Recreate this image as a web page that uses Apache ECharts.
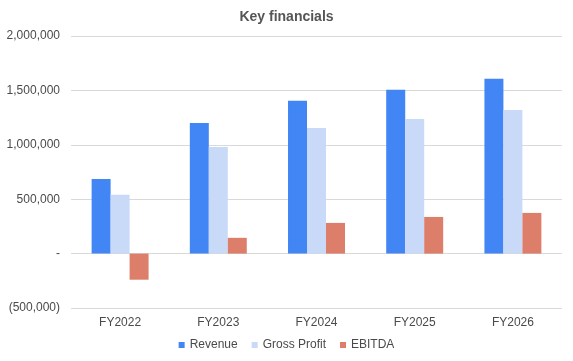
<!DOCTYPE html>
<html>
<head>
<meta charset="utf-8">
<script src="https://cdn.jsdelivr.net/npm/echarts@6/dist/echarts.min.js"></script>
<style>html,body{margin:0;padding:0;background:#fff;}#c{width:573px;height:361px;}</style>
</head>
<body>
<div id="c"></div>
<script>
const categories = ['FY2022', 'FY2023', 'FY2024', 'FY2025', 'FY2026'];
const revenue = [686000, 1200000, 1405000, 1505000, 1606000];
const grossProfit = [540000, 980000, 1155000, 1238000, 1320000];
const ebitda = [-240000, 145000, 282000, 337000, 374000];
const yTicks = { min: -500000, max: 2000000, interval: 500000 };

function fmt(v) {
  if (v === 0) return '-';
  const s = Math.abs(v).toString().replace(/\B(?=(\d{3})+(?!\d))/g, ',');
  return v < 0 ? '(' + s + ')' : s;
}

const chart = echarts.init(document.getElementById('c'));
chart.setOption({
  animation: false,
  title: {
    text: 'Key financials', left: 'center', top: 5,
    textStyle: { fontFamily: 'Liberation Sans, Arial', fontSize: 14, fontWeight: 'bold', color: '#555555' }
  },
  legend: {
    bottom: 5, left: 'center', icon: 'rect', itemWidth: 6, itemHeight: 6, itemGap: 14,
    textStyle: { fontFamily: 'Liberation Sans, Arial', fontSize: 12, color: '#4a4a4a' },
    data: ['Revenue', 'Gross Profit', 'EBITDA']
  },
  grid: { left: 71, right: 11, top: 36, bottom: 53 },
  xAxis: {
    type: 'category', data: categories,
    axisLine: { show: false, onZero: false }, axisTick: { show: false },
    axisLabel: { margin: 9, fontFamily: 'Liberation Sans, Arial', fontSize: 12, color: '#4a4a4a' }
  },
  yAxis: {
    type: 'value', min: yTicks.min, max: yTicks.max, interval: yTicks.interval,
    axisLine: { show: false }, axisTick: { show: false },
    splitLine: { lineStyle: { color: '#d9d9d9', width: 1 } },
    axisLabel: { margin: 11, formatter: fmt, fontFamily: 'Liberation Sans, Arial', fontSize: 12, color: '#4a4a4a' }
  },
  series: [
    { name: 'Revenue', type: 'bar', data: revenue, itemStyle: { color: '#4285F4' }, barGap: '0%', barCategoryGap: '42%' },
    { name: 'Gross Profit', type: 'bar', data: grossProfit, itemStyle: { color: '#C9DAF8' } },
    { name: 'EBITDA', type: 'bar', data: ebitda, itemStyle: { color: '#DD7E6B' } }
  ]
});
</script>
</body>
</html>
